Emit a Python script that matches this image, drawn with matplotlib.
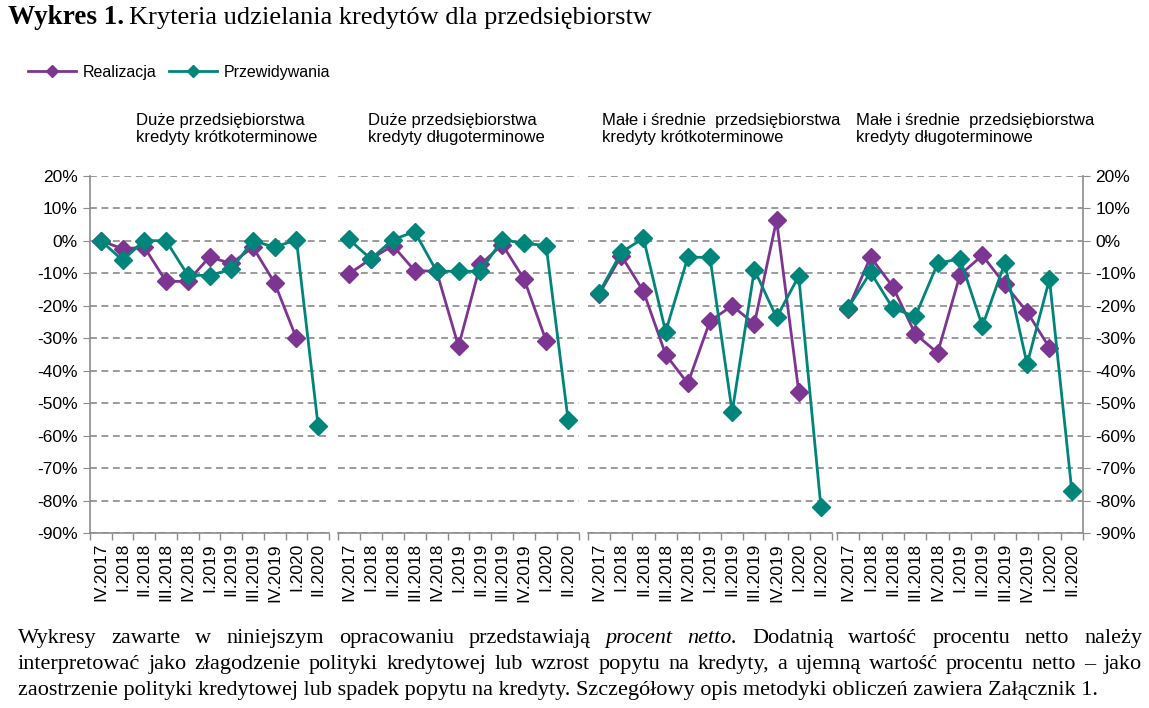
import matplotlib
matplotlib.use("Agg")
import matplotlib.pyplot as plt
import numpy as np
from matplotlib.lines import Line2D
from matplotlib.ticker import FuncFormatter

plt.rcParams['font.family'] = ['Liberation Sans', 'DejaVu Sans']

# kwartały na osi X
quarters = ["IV.2017", "I.2018", "II.2018", "III.2018", "IV.2018", "I.2019",
            "II.2019", "III.2019", "IV.2019", "I.2020", "II.2020"]

panel_titles = ["Duże przedsiębiorstwa\nkredyty krótkoterminowe",
                "Duże przedsiębiorstwa\nkredyty długoterminowe",
                "Małe i średnie  przedsiębiorstwa\nkredyty krótkoterminowe",
                "Małe i średnie  przedsiębiorstwa\nkredyty długoterminowe"]

# procent netto - realizacja (brak II.2020)
real_duze_krotko = [0, -2.5, -2, -12.5, -12.5, -5, -7, -2, -13, -30]
real_duze_dlugo = [-10.2, -5.6, -1.5, -9.2, -9.4, -32.5, -7.3, -1.2, -11.9, -30.8]
real_msp_krotko = [-16.5, -4.6, -15.6, -35, -43.9, -24.7, -20, -25.6, 6.3, -46.4]
real_msp_dlugo = [-20.9, -5, -14.2, -28.7, -34.5, -10.5, -4.5, -13.4, -21.9, -32.9]

# procent netto - przewidywania
prz_duze_krotko = [0, -6, 0, 0, -10.6, -10.7, -8.8, 0, -2, 0.3, -57]
prz_duze_dlugo = [0.4, -5.6, 0.3, 2.8, -9.4, -9.4, -9.4, 0.3, -0.8, -1.5, -55]
prz_msp_krotko = [-16, -3.6, 0.8, -28, -5.1, -5.1, -52.7, -8.9, -23.6, -10.9, -81.9]
prz_msp_dlugo = [-20.6, -9.7, -20.8, -23.3, -7, -5.5, -26.3, -6.9, -38, -11.8, -77]

realizacja = [real_duze_krotko, real_duze_dlugo, real_msp_krotko, real_msp_dlugo]
przewidywania = [prz_duze_krotko, prz_duze_dlugo, prz_msp_krotko, prz_msp_dlugo]

PURPLE = "#7d3592"
TEAL = "#00857a"
GREY = "#8c8c8c"

W, H = 1149, 708
fig = plt.figure(figsize=(W / 100, H / 100), dpi=100)
renderer = fig.canvas.get_renderer()

# polozenie paneli w pikselach
panel_x = [(90, 329), (338, 579), (588, 832), (837, 1083)]
title_x = [136, 368, 602, 856]
y_top, y_bot = 175.7, 533.3

for i in range(4):
    x0, x1 = panel_x[i]
    ax = fig.add_axes([x0 / W, 1 - y_bot / H, (x1 - x0) / W, (y_bot - y_top) / H])
    r = realizacja[i]
    p = przewidywania[i]
    ax.plot(range(len(r)), r, color=PURPLE, lw=2, marker="D", ms=9.5, zorder=3)
    ax.plot(range(len(p)), p, color=TEAL, lw=2, marker="D", ms=9.5, zorder=4)

    ax.set_ylim(-90, 20)
    ax.set_yticks(range(-90, 21, 10))
    ax.yaxis.set_major_formatter(FuncFormatter(lambda v, pos: "%d%%" % v))
    ax.grid(axis="y", linestyle=(0, (4.5, 3)), color="#808080", lw=1.1)
    ax.set_axisbelow(True)

    ax.set_xlim(-0.5, 10.5)
    ax.set_xticks(range(11))
    ax.set_xticklabels(quarters, rotation=90, fontsize=12.5)
    ax.set_xticks(np.arange(-0.5, 11, 1), minor=True)
    ax.tick_params(axis="x", which="major", length=0, pad=7)
    ax.tick_params(axis="x", which="minor", length=5, color=GREY, width=1)

    for s in ["top", "left", "right"]:
        ax.spines[s].set_visible(False)
    ax.spines["bottom"].set_color(GREY)
    ax.spines["bottom"].set_linewidth(1.2)

    if i == 0:
        ax.spines["left"].set_visible(True)
        ax.spines["left"].set_color(GREY)
        ax.spines["left"].set_linewidth(1.2)
        ax.tick_params(axis="y", length=5, color=GREY, labelsize=12.5, pad=4)
    elif i == 3:
        ax.spines["right"].set_visible(True)
        ax.spines["right"].set_color(GREY)
        ax.spines["right"].set_linewidth(1.2)
        ax.yaxis.set_ticks_position("right")
        ax.tick_params(axis="y", length=5, color=GREY, labelsize=12.5, pad=4)
    else:
        ax.tick_params(axis="y", length=0, labelleft=False)

    fig.text(title_x[i] / W, 1 - 129 / H, panel_titles[i], fontsize=12,
             ha="left", va="center", linespacing=1.1)

# legenda
handles = [Line2D([], [], color=PURPLE, lw=2, marker="D", ms=6),
           Line2D([], [], color=TEAL, lw=2, marker="D", ms=6)]
fig.legend(handles, ["Realizacja", "Przewidywania"], loc="center left",
           bbox_to_anchor=(14 / W, 1 - 72 / H), ncol=2, frameon=False,
           fontsize=11.5, handlelength=3, handletextpad=0.4, columnspacing=0.8)

# tytul
serif = ["Liberation Serif", "DejaVu Serif"]
t_bold = fig.text(8 / W, 1 - 24 / H, "Wykres 1.", fontsize=19.5, family=serif,
                  weight="bold", va="baseline")
wb = t_bold.get_window_extent(renderer).width
fig.text((8 + wb + 5) / W, 1 - 24 / H, "Kryteria udzielania kredytów dla przedsiębiorstw",
         fontsize=19, family=serif, va="baseline")

# przypis - wyjustowany tekst
line1 = [("Wykresy", "normal"), ("zawarte", "normal"), ("w", "normal"),
         ("niniejszym", "normal"), ("opracowaniu", "normal"), ("przedstawiają", "normal"),
         ("procent", "italic"), ("netto.", "italic"), ("Dodatnią", "normal"),
         ("wartość", "normal"), ("procentu", "normal"), ("netto", "normal"), ("należy", "normal")]
line2 = [(w, "normal") for w in
         "interpretować jako złagodzenie polityki kredytowej lub wzrost popytu na kredyty, a ujemną wartość procentu netto – jako".split()]
line3 = "zaostrzenie polityki kredytowej lub spadek popytu na kredyty. Szczegółowy opis metodyki obliczeń zawiera Załącznik 1."

t3 = fig.text(18 / W, 1 - 695 / H, line3, fontsize=14, family=serif, va="baseline")
w3 = t3.get_window_extent(renderer).width
fsize = 14 * 1085 / w3
t3.set_fontsize(fsize)


def justify(words, y, xa, xb):
    texts = []
    for w, st in words:
        texts.append(fig.text(0, 1 - y / H, w, fontsize=fsize, family=serif,
                              style=st, va="baseline"))
    widths = [t.get_window_extent(renderer).width for t in texts]
    gap = (xb - xa - sum(widths)) / (len(words) - 1)
    x = xa
    for t, w in zip(texts, widths):
        t.set_x(x / W)
        x += w + gap


justify(line1, 643, 18, 1142)
justify(line2, 669, 18, 1142)

fig.savefig("out.png", dpi=100)
